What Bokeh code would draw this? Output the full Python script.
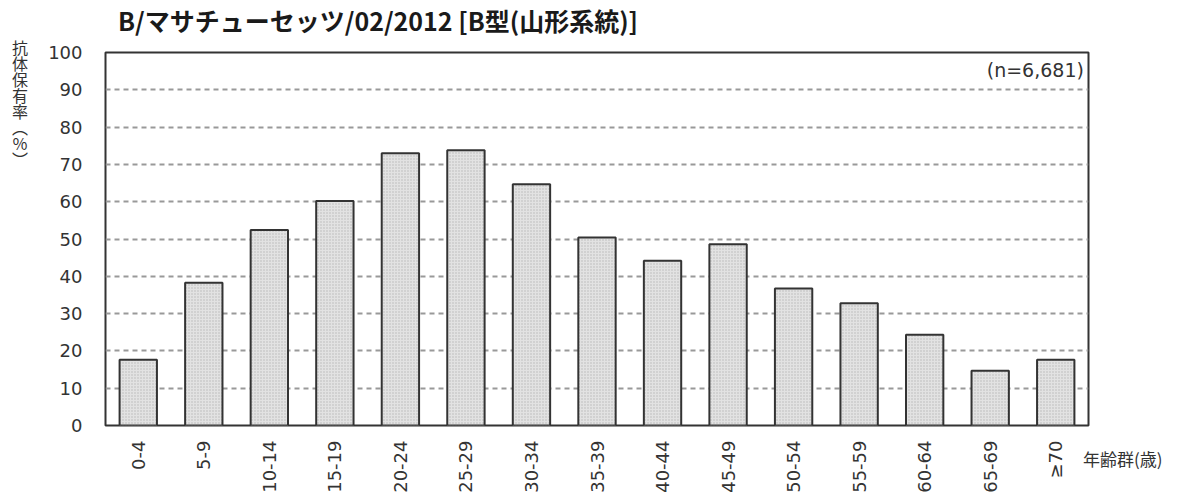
import math
from bokeh.plotting import figure
from bokeh.models import Label, FactorRange, Range1d, FixedTicker, Div, Spacer
from bokeh.layouts import row, column
from bokeh.embed import file_html
from bokeh.resources import INLINE

age_groups = ["0-4", "5-9", "10-14", "15-19", "20-24", "25-29", "30-34", "35-39",
              "40-44", "45-49", "50-54", "55-59", "60-64", "65-69", "≥70"]
seroprevalence = [17.6, 38.3, 52.4, 60.2, 73.0, 73.8, 64.7, 50.4,
                  44.2, 48.6, 36.7, 32.8, 24.3, 14.7, 17.6]
y_ticks = [0, 10, 20, 30, 40, 50, 60, 70, 80, 90, 100]
title_text = "B/マサチューセッツ/02/2012 [B型(山形系統)]"
n_text = "(n=6,681)"
y_label_text = "抗体保有率（％）"
x_label_text = "年齢群(歳)"

LATIN = "DejaVu Sans"
CJK = "Noto Sans CJK JP"

TITLE_H = 40
H = 498 - TITLE_H
LEFT_W = 40

p = figure(width=1090 - LEFT_W, height=H, x_range=FactorRange(*age_groups),
           y_range=Range1d(0, 100), output_backend="svg", toolbar_location=None,
           min_border_left=105 - LEFT_W, min_border_right=2,
           min_border_top=52 - TITLE_H, min_border_bottom=H - (425 - TITLE_H),
           margin=0)

p.vbar(x=age_groups, top=seroprevalence, width=0.57, fill_color="#e2e2e2",
       hatch_pattern="dot", hatch_color="#b5b5b5", hatch_scale=3, hatch_weight=1,
       line_color="#333333", line_width=2)

p.outline_line_color = "#333333"
p.outline_line_width = 2
p.outline_line_alpha = 1

p.xgrid.grid_line_color = None
p.ygrid.grid_line_color = "#999999"
p.ygrid.grid_line_width = 2
p.ygrid.grid_line_dash = "5 4"
p.ygrid.ticker = FixedTicker(ticks=[10, 20, 30, 40, 50, 60, 70, 80, 90])

p.yaxis.ticker = FixedTicker(ticks=y_ticks)
for ax in (p.xaxis, p.yaxis):
    ax.axis_line_color = None
    ax.major_tick_line_color = None
    ax.minor_tick_line_color = None
    ax.major_tick_out = 0
    ax.major_tick_in = 0
    ax.minor_tick_out = 0
    ax.major_label_text_font = LATIN
    ax.major_label_text_font_size = "18px"
    ax.major_label_text_color = "#333333"
p.yaxis.major_label_standoff = 23
p.xaxis.major_label_standoff = 15
p.xaxis.major_label_orientation = math.pi / 2

p.add_layout(Label(x=14.93, y=95.2, text=n_text, text_font=LATIN,
                   text_font_size="19px", text_color="#333333",
                   text_baseline="middle", text_align="right"))

title = Div(text=title_text, width=1178, height=TITLE_H, margin=0,
            styles={"font-family": CJK, "font-size": "25px", "font-weight": "bold",
                    "color": "#1a1a1a", "white-space": "nowrap",
                    "line-height": f"{TITLE_H}px", "padding-left": "118px"})

ylab = Div(text=("<div style=\"writing-mode: vertical-rl; text-orientation: mixed; "
                 "font-family: 'Noto Sans CJK JP'; font-size: 16px; color: #333333; "
                 "line-height: 1; margin-top: 0px; margin-left: 12px;\">"
                 + y_label_text + "</div>"),
           width=LEFT_W, height=H, margin=0)

xlab = Div(text=x_label_text, width=88, height=30, margin=0,
           styles={"font-family": CJK, "font-size": "17px", "color": "#333333",
                   "white-space": "nowrap", "margin-left": "-7px", "line-height": "1"})

right_col = column(Spacer(width=88, height=450 - TITLE_H, margin=0), xlab, margin=0)
layout = column(title, row(ylab, p, right_col, margin=0), margin=0)

open("out.html", "w").write(file_html(layout, INLINE))
